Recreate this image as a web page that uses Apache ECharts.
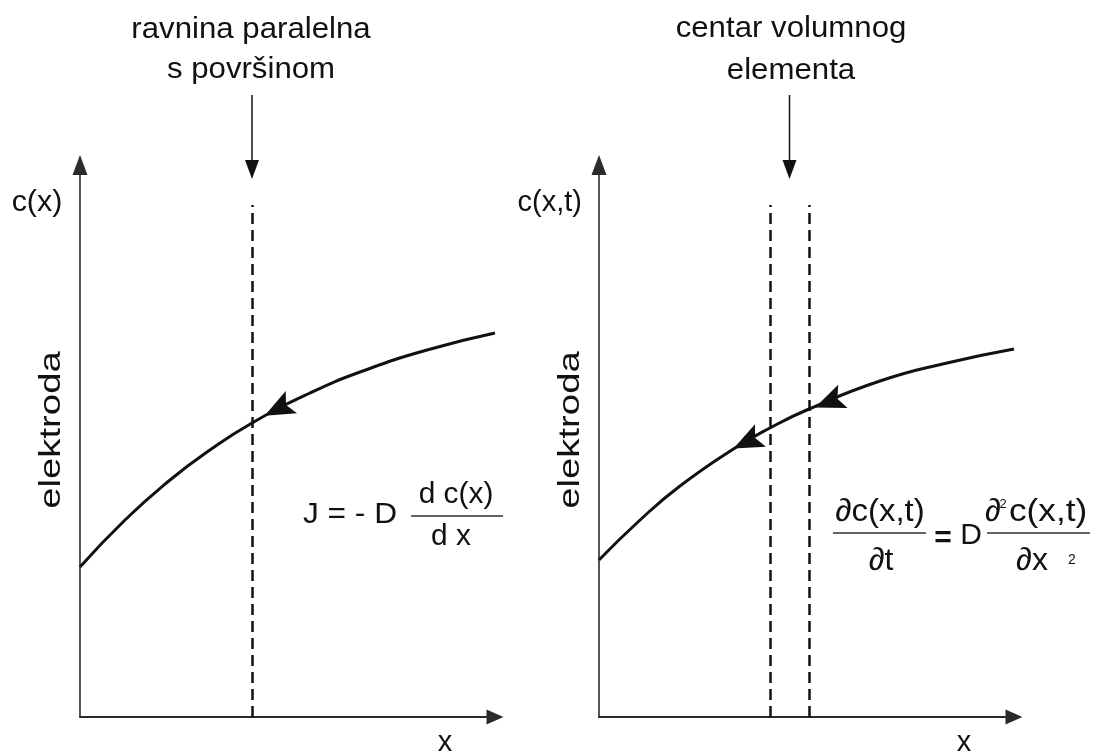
<!DOCTYPE html>
<html><head><meta charset="utf-8">
<script src="https://cdn.jsdelivr.net/npm/echarts@6/dist/echarts.min.js"></script>
<style>html,body{margin:0;padding:0;background:#fff}#c{width:1094px;height:756px}</style>
</head><body><div id="c"></div>
<script>
// concentration profile c(x), left panel (x from electrode, c upward)
const curveLeft = [[0,150],[45,197],[90,237],[127,265],[172,294],[230,324],[280,345],[347,367],[415,384]];
// concentration profile c(x,t), right panel
const curveRight = [[0,157],[40,196],[81,231],[136,269],[171,289],[210,308],[281,336],[348,354],[415,368]];
// plane parallel to surface (left) and volume element borders (right)
const planeLeft = [172];
const volumeRight = [171, 210];
const dashTop = 512;
// flux arrowheads on the curves: [x, y, rotation]
const fluxLeft = [[198, 308, 117]];
const fluxRight = [[148, 275, 116], [230, 315, 112]];

const FONT = '"Liberation Sans", Arial, sans-serif';
const INK = '#111';
const ARROW = 'path://M12,0 L24,30 L12,24 L0,30 Z';

function axisLine(size, w) {
  return {show: true, symbol: ['none', 'triangle'], symbolSize: size,
    lineStyle: {color: '#2b2b2b', width: w}};
}
function xAx(g) {
  return {gridIndex: g, type: 'value', min: 0, max: 415, axisLine: axisLine([15, 17], 2),
    axisTick: {show: false}, axisLabel: {show: false}, splitLine: {show: false}};
}
function yAx(g) {
  return {gridIndex: g, type: 'value', min: 0, max: 552, axisLine: axisLine([15, 20], 1.6),
    axisTick: {show: false}, axisLabel: {show: false}, splitLine: {show: false}};
}
function dashed(xs) {
  return xs.map(v => [{coord: [v, 0]}, {coord: [v, dashTop]}]);
}
function flux(arr) {
  return arr.map(a => ({coord: [a[0], a[1]], symbolRotate: a[2]}));
}
function curveSeries(g, data, xs, fl) {
  return {
    type: 'line', xAxisIndex: g, yAxisIndex: g, data: data, smooth: true,
    showSymbol: false, silent: true, lineStyle: {color: INK, width: 3},
    markLine: {silent: true, symbol: ['none', 'none'], label: {show: false},
      lineStyle: {color: INK, width: 2.5, type: [11, 6]}, data: dashed(xs), animation: false},
    markPoint: {silent: true, symbol: ARROW, symbolSize: [25, 30], label: {show: false},
      itemStyle: {color: INK}, data: flux(fl), animation: false}
  };
}
function txt(text, x, y, size, opts) {
  opts = opts || {};
  return {type: 'text', x: x, y: y, scaleX: opts.sx || 1, rotation: opts.rot || 0, silent: true,
    style: {text: text, font: (opts.w || 'normal') + ' ' + size + 'px ' + FONT, fill: INK,
      align: opts.align || 'center', textAlign: opts.align || 'center',
      verticalAlign: 'middle', textVerticalAlign: 'middle'}};
}
function hline(x1, x2, y) {
  return {type: 'line', silent: true, shape: {x1: x1, y1: y, x2: x2, y2: y},
    style: {stroke: '#333', lineWidth: 1.3}};
}

const chart = echarts.init(document.getElementById('c'), null, {renderer: 'canvas'});
const texts = [
  txt('ravnina paralelna', 251, 30, 30, {sx: 1.04}),
  txt('s površinom', 251, 70, 30, {sx: 1.04}),
  txt('centar volumnog', 791, 29, 30, {sx: 1.04}),
  txt('elementa', 791, 71, 30, {sx: 1.04}),
  txt('c(x)', 37, 203, 29, {sx: 1.05}),
  txt('c(x,t)', 582, 203, 29, {align: 'right'}),
  txt('elektroda', 52, 430, 29, {sx: 1.32, rot: Math.PI / 2}),
  txt('elektroda', 571, 430, 29, {sx: 1.32, rot: Math.PI / 2}),
  txt('x', 445, 743, 29),
  txt('x', 964, 743, 29),
  // J = -D dc/dx
  txt('J = - D', 303, 515, 29, {align: 'left', sx: 1.09}),
  txt('d c(x)', 456, 495, 29, {sx: 1.03}),
  hline(411, 503, 516),
  txt('d x', 451, 537, 29, {sx: 1.03}),
  // dc/dt = D d2c/dx2
  txt('\u2202c(x,t)', 880, 512, 32, {sx: 1.03}),
  hline(833, 926, 533),
  txt('\u2202t', 881, 561, 32),
  txt('=', 943, 539, 30, {w: 'bold'}),
  txt('D', 971, 536, 30),
  txt('\u2202', 985, 512, 32, {align: 'left'}),
  txt('2', 1003, 504, 13),
  txt('c(x,t)', 1009, 512, 32, {align: 'left', sx: 1.1}),
  hline(987, 1090, 533),
  txt('\u2202x', 1032, 561, 32),
  txt('2', 1072, 560, 14)
];

chart.setOption({
  animation: false,
  backgroundColor: '#fff',
  grid: [
    {left: 80, top: 165, width: 415, height: 552},
    {left: 599, top: 165, width: 415, height: 552}
  ],
  xAxis: [xAx(0), xAx(1)],
  yAxis: [yAx(0), yAx(1)],
  series: [
    curveSeries(0, curveLeft, planeLeft, fluxLeft),
    curveSeries(1, curveRight, volumeRight, fluxRight)
  ],
  graphic: texts
});

// pointer arrows from the captions to the plane / volume element
const pL = chart.convertToPixel({xAxisIndex: 0}, planeLeft[0]);
const pR = chart.convertToPixel({xAxisIndex: 1}, (volumeRight[0] + volumeRight[1]) / 2);
function pointer(x) {
  return [
    {type: 'line', silent: true, shape: {x1: x, y1: 95, x2: x, y2: 162}, style: {stroke: INK, lineWidth: 1.5}},
    {type: 'polygon', silent: true, shape: {points: [[x - 7, 160], [x + 7, 160], [x, 179]]}, style: {fill: INK}}
  ];
}
chart.setOption({graphic: texts.concat(pointer(pL), pointer(pR))});
</script></body></html>
